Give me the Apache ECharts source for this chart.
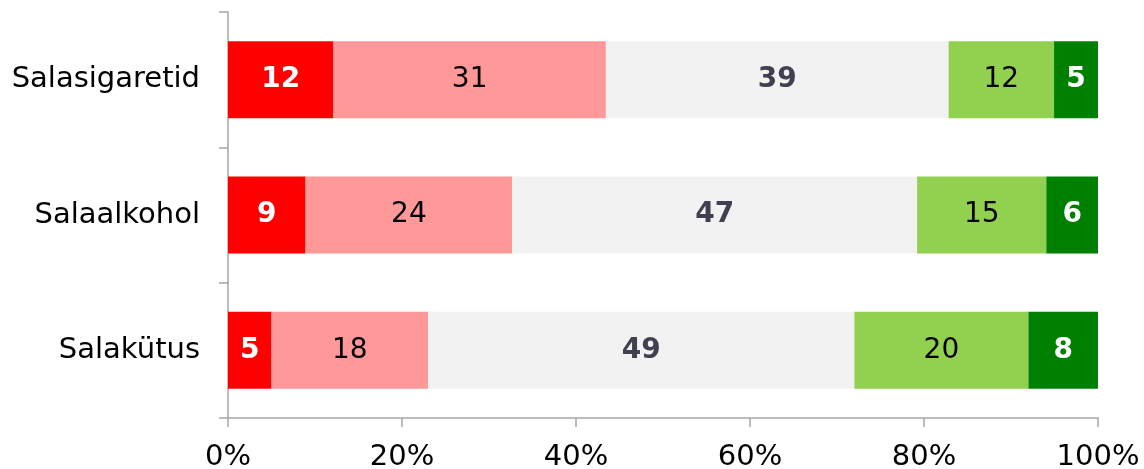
<!DOCTYPE html>
<html>
<head>
<meta charset="utf-8">
<script src="https://cdn.jsdelivr.net/npm/echarts@6/dist/echarts.min.js"></script>
<style>
  html, body { margin: 0; padding: 0; background: #fff; }
  #chart { width: 1144px; height: 469px; }
</style>
</head>
<body>
<div id="chart"></div>
<script>
// kategooriad (ülevalt alla)
const categories = ['Salasigaretid', 'Salaalkohol', 'Salakütus']
// vastuste jaotus, %
const seriesNames = ['s1', 's2', 's3', 's4', 's5']
const s1 = [12, 9, 5]
const s2 = [31, 24, 18]
const s3 = [39, 47, 49]
const s4 = [12, 15, 20]
const s5 = [5, 6, 8]
const xTicks = [0, 20, 40, 60, 80, 100]

const colors = ['#FF0000', '#FF9999', '#F2F2F2', '#92D050', '#008000']
const labelColors = ['#FFFFFF', '#000000', '#404050', '#000000', '#FFFFFF']
const labelWeights = ['bold', 'normal', 'bold', 'normal', 'bold']

const raw = [s1, s2, s3, s4, s5]
// iga rida skaleeritakse 100%-ni
const rowSums = categories.map((c, i) => raw.reduce((s, arr) => s + arr[i], 0))

const chart = echarts.init(document.getElementById('chart'), null, { renderer: 'canvas' })

const font = 'DejaVu Sans'

chart.setOption({
  backgroundColor: '#fff',
  animation: false,
  textStyle: { fontFamily: font },
  grid: { left: 228, right: 46, top: 12, bottom: 51, containLabel: false, outerBoundsMode: 'none' },
  xAxis: {
    type: 'value',
    min: xTicks[0],
    max: xTicks[xTicks.length - 1],
    interval: 20,
    axisLine: { show: true, lineStyle: { color: '#A6A6A6', width: 1.5 } },
    axisTick: { show: true, length: 9, lineStyle: { color: '#A6A6A6', width: 1.5 } },
    splitLine: { show: false },
    axisLabel: {
      margin: 25,
      fontSize: 29,
      color: '#000',
      fontFamily: font,
      formatter: v => v + '%'
    }
  },
  yAxis: {
    type: 'category',
    data: categories,
    inverse: true,
    axisLine: { show: true, lineStyle: { color: '#A6A6A6', width: 1.5 } },
    axisTick: { show: true, length: 9, lineStyle: { color: '#A6A6A6', width: 1.5 } },
    axisLabel: { margin: 28, fontSize: 29, color: '#000', fontFamily: font }
  },
  series: raw.map((arr, k) => ({
    name: seriesNames[k],
    type: 'bar',
    stack: 'total',
    barWidth: 77,
    data: arr.map((v, i) => v / rowSums[i] * 100),
    itemStyle: { color: colors[k] },
    label: {
      show: true,
      position: 'inside',
      fontSize: 28,
      fontFamily: font,
      color: labelColors[k],
      fontWeight: labelWeights[k],
      formatter: p => String(arr[p.dataIndex])
    }
  }))
})
</script>
</body>
</html>
